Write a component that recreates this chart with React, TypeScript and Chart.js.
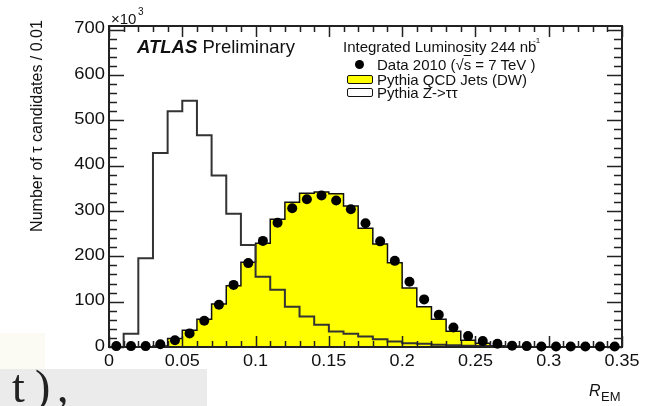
import React, { useEffect, useRef } from "react";
import { Chart, registerables } from "chart.js";

Chart.register(...registerables);

// Lower edges of the 0.01-wide R_EM bins
const binLow = [
  0, 0.01, 0.02, 0.03, 0.04, 0.05, 0.06, 0.07, 0.08, 0.09,
  0.1, 0.11, 0.12, 0.13, 0.14, 0.15, 0.16, 0.17, 0.18, 0.19,
  0.2, 0.21, 0.22, 0.23, 0.24, 0.25, 0.26, 0.27, 0.28, 0.29,
  0.3, 0.31, 0.32, 0.33, 0.34,
];
const binUpperEnd = 0.35;

// Counts (x10^3) per bin
const dataCounts = [
  2, 2, 2, 6, 15, 30, 58, 93, 137, 185,
  234, 274, 306, 326, 334, 323, 304, 273, 233, 190,
  144, 105, 71, 43, 24, 13, 7, 3, 2, 1,
  1, 1, 1, 1, 1,
];
const qcdCounts = [
  0, 0, 0, 2, 19, 37, 61, 95, 135, 187,
  229, 282, 319, 339, 342, 338, 311, 262, 227, 186,
  130, 89, 61, 35, 15, 8, 3, 1, 0, 0,
  0, 0, 0, 0, 0,
];
const ztautauCounts = [
  0, 29, 196, 428, 520, 543, 467, 378, 294, 225,
  155, 126, 89, 67, 49, 34, 29, 23, 17, 12,
  8, 7, 5, 4, 3, 2, 1, 1, 0, 0,
  0, 0, 0, 0, 0,
];

const xTickValues = [0, 0.05, 0.1, 0.15, 0.2, 0.25, 0.3, 0.35];
const xTickLabels = ["0", "0.05", "0.1", "0.15", "0.2", "0.25", "0.3", "0.35"];
const yTickValues = [0, 100, 200, 300, 400, 500, 600, 700];
const yTickLabels = ["0", "100", "200", "300", "400", "500", "600", "700"];

const FONT = "'Liberation Sans', Arial, Helvetica, sans-serif";

function stepPoints(counts: number[]) {
  const pts = counts.map((c, i) => ({ x: binLow[i], y: c }));
  pts.push({ x: binUpperEnd, y: counts[counts.length - 1] });
  return pts;
}

const framePlugin = {
  id: "rootFrame",
  afterDatasetDraw(chart: any, args: any) {
    if (args.index !== 1) return;
    const { ctx, chartArea: a, scales } = chart;
    const xs = scales.x;
    const ys = scales.y;
    ctx.save();
    ctx.strokeStyle = "#222";
    ctx.lineWidth = 1.5;
    ctx.beginPath();
    for (let k = 0; k <= 35; k++) {
      const v = k / 100;
      const px = Math.round(xs.getPixelForValue(v)) + 0.5;
      const len = k % 5 === 0 ? 11 : 6;
      ctx.moveTo(px, a.bottom);
      ctx.lineTo(px, a.bottom - len);
      ctx.moveTo(px, a.top);
      ctx.lineTo(px, a.top + len);
    }
    for (let k = 0; k <= 35; k++) {
      const v = k * 20;
      const py = Math.round(ys.getPixelForValue(v)) + 0.5;
      const len = k % 5 === 0 ? 15 : 8;
      ctx.moveTo(a.left, py);
      ctx.lineTo(a.left + len, py);
      ctx.moveTo(a.right, py);
      ctx.lineTo(a.right - len, py);
    }
    ctx.stroke();
    ctx.lineWidth = 2;
    ctx.strokeRect(a.left, a.top, a.right - a.left, a.bottom - a.top);
    ctx.restore();
  },
  afterDraw(chart: any) {
    const { ctx, chartArea: a, scales } = chart;
    ctx.save();
    ctx.fillStyle = "#111";
    ctx.font = `17px ${FONT}`;
    xTickValues.forEach((v, i) => {
      const px = scales.x.getPixelForValue(v);
      ctx.save();
      ctx.translate(px, a.bottom + 6);
      ctx.scale(1.06, 1);
      ctx.textAlign = "center";
      ctx.textBaseline = "top";
      ctx.fillText(xTickLabels[i], 0, 0);
      ctx.restore();
    });
    yTickValues.forEach((v, i) => {
      const py = scales.y.getPixelForValue(v);
      ctx.save();
      ctx.translate(a.left - 4, py - 1);
      ctx.scale(1.08, 1);
      ctx.textAlign = "right";
      ctx.textBaseline = "middle";
      ctx.fillText(yTickLabels[i], 0, 0);
      ctx.restore();
    });
    ctx.restore();
  },
};

export default function App() {
  const canvasRef = useRef<HTMLCanvasElement | null>(null);

  useEffect(() => {
    if (!canvasRef.current) return;
    const chart = new Chart(canvasRef.current, {
      type: "line",
      data: {
        datasets: [
          {
            label: "Data 2010",
            data: dataCounts.map((c, i) => ({ x: binLow[i] + 0.005, y: c })),
            showLine: false,
            pointRadius: 5,
            pointBackgroundColor: "#000",
            pointBorderColor: "#000",
            pointBorderWidth: 0,
            clip: false as any,
          },
          {
            label: "Pythia Z->tautau",
            data: stepPoints(ztautauCounts),
            stepped: true,
            borderColor: "#333",
            borderWidth: 2,
            pointRadius: 0,
            fill: false,
          },
          {
            label: "Pythia QCD Jets (DW)",
            data: stepPoints(qcdCounts),
            stepped: true,
            borderColor: "#111",
            borderWidth: 1.5,
            backgroundColor: "#ffff00",
            pointRadius: 0,
            fill: "origin",
          },
        ],
      },
      options: {
        animation: false,
        responsive: false,
        layout: { padding: { left: 109, right: 25, top: 26, bottom: 59 } },
        plugins: {
          legend: { display: false },
          tooltip: { enabled: false },
        },
        scales: {
          x: { type: "linear", display: false, min: 0, max: 0.35 },
          y: { type: "linear", display: false, min: 0, max: 708 },
        },
      },
      plugins: [framePlugin as any],
    });
    return () => chart.destroy();
  }, []);

  const text = (extra: React.CSSProperties): React.CSSProperties => ({
    position: "absolute",
    fontFamily: FONT,
    lineHeight: 1,
    whiteSpace: "nowrap",
    color: "#111",
    ...extra,
  });

  const serif: React.CSSProperties = {
    position: "absolute",
    top: 364,
    fontFamily: "'Liberation Serif', 'Times New Roman', serif",
    fontSize: 46,
    lineHeight: 1,
    color: "#222",
    whiteSpace: "nowrap",
  };

  return (
    <div
      style={{
        position: "fixed",
        left: 0,
        top: 0,
        width: 647,
        height: 406,
        background: "#fff",
        overflow: "hidden",
      }}
    >
      <canvas
        ref={canvasRef}
        width={647}
        height={406}
        style={{ position: "absolute", left: 0, top: 0, width: 647, height: 406 }}
      />
      {/* x10^3 */}
      <div style={text({ left: 111, top: 11, fontSize: 15 })}>×10</div>
      <div style={text({ left: 138, top: 7, fontSize: 10 })}>3</div>
      {/* ATLAS Preliminary */}
      <div style={text({ left: 137, top: 38, fontSize: 18.5 })}>
        <span style={{ fontWeight: "bold", fontStyle: "italic" }}>ATLAS</span> Preliminary
      </div>
      {/* Legend */}
      <div style={text({ left: 343, top: 39, fontSize: 15 })}>
        Integrated Luminosity 244 nb
      </div>
      <div style={text({ left: 533, top: 37, fontSize: 8 })}>-1</div>
      <div
        style={{
          position: "absolute",
          left: 354.5,
          top: 59.5,
          width: 9,
          height: 9,
          borderRadius: "50%",
          background: "#000",
        }}
      />
      <div style={text({ left: 377, top: 57, fontSize: 15 })}>
        Data 2010 (√<span style={{ textDecoration: "overline" }}>s</span> = 7 TeV )
      </div>
      <div
        style={{
          position: "absolute",
          left: 347,
          top: 75,
          width: 24,
          height: 7,
          borderRadius: 2,
          border: "1.5px solid #111",
          background: "#ffff00",
        }}
      />
      <div style={text({ left: 377, top: 72, fontSize: 15 })}>Pythia QCD Jets (DW)</div>
      <div
        style={{
          position: "absolute",
          left: 347,
          top: 87.5,
          width: 24,
          height: 7,
          borderRadius: 2,
          border: "1.5px solid #111",
          background: "#fff",
        }}
      />
      <div style={text({ left: 377, top: 85, fontSize: 15 })}>Pythia Z-&gt;ττ</div>
      {/* y-axis title */}
      <div
        style={text({
          left: 37 - 130,
          top: 126 - 8,
          width: 260,
          fontSize: 16,
          textAlign: "center",
          transform: "rotate(-90deg)",
          transformOrigin: "50% 50%",
        })}
      >
        Number of τ candidates / 0.01
      </div>
      {/* x-axis title */}
      <div style={text({ left: 589, top: 383, fontSize: 16, fontStyle: "italic" })}>R</div>
      <div style={text({ left: 601, top: 390, fontSize: 13 })}>EM</div>
      {/* page background artefact at bottom-left */}
      <div style={{ position: "absolute", left: 0, top: 333, width: 45, height: 36, background: "#fcfbf3" }} />
      <div style={{ position: "absolute", left: 0, top: 369, width: 207, height: 37, background: "#ebebeb" }} />
      <div style={{ ...serif, left: 12 }}>t</div>
      <div style={{ ...serif, left: 35 }}>)</div>
      <div style={{ ...serif, left: 57 }}>,</div>
    </div>
  );
}
